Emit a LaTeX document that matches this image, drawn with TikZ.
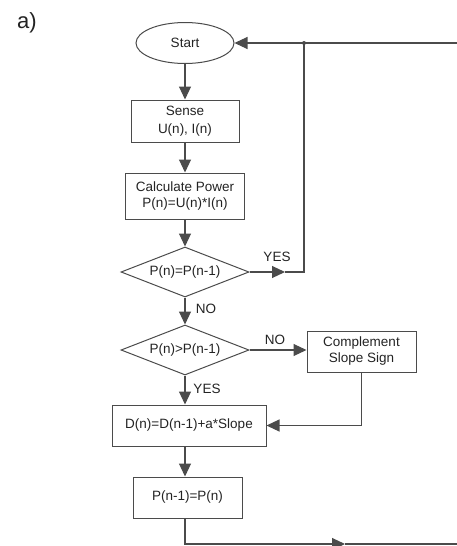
\documentclass[tikz,border=0pt]{standalone}
\usepackage{fontspec}
\setmainfont{Liberation Sans}
\usetikzlibrary{shapes.geometric,arrows.meta}
\definecolor{ln}{RGB}{75,75,75}
\definecolor{tx}{RGB}{35,35,35}
\begin{document}
\begin{tikzpicture}[x=1pt,y=1pt,
  every node/.style={text=tx,font=\fontsize{13.5}{16}\selectfont},
  line/.style={draw=ln,line width=1.1pt},
  arr/.style={line,-{Triangle[length=13pt,width=12pt]}},
  box/.style={draw=ln,line width=1pt,rectangle,inner sep=0pt,align=center},
  dia/.style={draw=ln,line width=1pt,diamond,aspect=2.56,inner sep=0pt,minimum width=128pt,minimum height=50pt},
  lbl/.style={inner sep=0pt}]
\useasboundingbox (0,0) rectangle (457,-546);
\node[lbl,font=\fontsize{22}{26}\selectfont] (a) at (27,-23) {a)};
\node[draw=ln,line width=1pt,ellipse,minimum width=98pt,minimum height=41pt,inner sep=0pt] (start) at (185,-43) {Start};
\node[box,minimum width=108pt,minimum height=42pt,font=\fontsize{13.5}{18}\selectfont] (sense) at (185,-121) {Sense\\U(n), I(n)};
\node[box,minimum width=119pt,minimum height=46pt] (calc) at (185,-196) {Calculate Power\\P(n)=U(n)*I(n)};
\node[dia] (d1) at (185,-272) {P(n)=P(n-1)};
\node[dia] (d2) at (185,-350) {P(n)>P(n-1)};
\node[box,minimum width=109pt,minimum height=41pt] (comp) at (361.5,-351.5) {Complement\\Slope Sign};
\node[box,minimum width=154pt,minimum height=41pt] (dbox) at (189,-425.5) {D(n)=D(n-1)+a*Slope};
\node[box,minimum width=109pt,minimum height=41pt] (pbox) at (187.5,-497.5) {P(n-1)=P(n)};
\coordinate (j) at (304,-43);
\coordinate (rt) at (458,-43);
\coordinate (ya) at (285,-272);
\coordinate (bl) at (185,-544);
\coordinate (ba) at (345,-544);
\coordinate (br) at (458,-544);
\node[lbl] (yes1) at (277,-257) {YES};
\node[lbl] (no1) at (206,-309) {NO};
\node[lbl] (no2) at (275,-340) {NO};
\node[lbl] (yes2) at (207,-389) {YES};
% connectors
\draw[arr] (start.south) -- (sense.north);
\draw[arr] (sense.south) -- (calc.north);
\draw[arr] (calc.south) -- (d1.north);
\draw[arr] (d1.south) -- (d2.north);
\draw[arr] (d2.south) -- (d2.south |- dbox.north);
\draw[arr] (dbox.south -| d2.south) -- (d2.south |- pbox.north);
\draw[arr] (d2.east) -- (comp.west |- d2.east);
\draw[arr] (comp.south) |- (dbox.east);
\draw[arr] (d1.east) -- (ya);
\draw[line] (ya) -- (j |- ya) -- (j);
\draw[line] (rt) -- (j);
\draw[arr] (j) -- (start.east);
\fill[ln] (j) circle (2pt);
\draw[arr] (pbox.south -| bl) -- (bl) -- (ba);
\draw[line] (ba) -- (br);
\end{tikzpicture}
\end{document}
